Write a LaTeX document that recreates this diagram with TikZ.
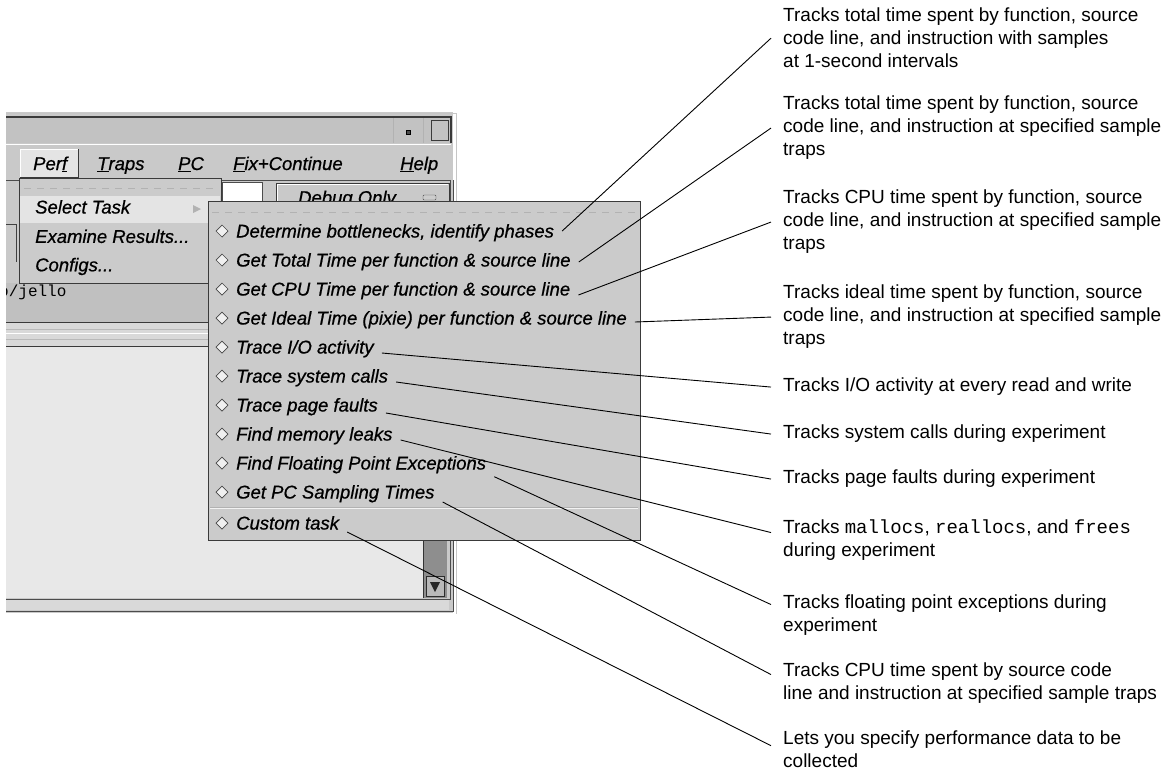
\documentclass[tikz,border=0pt]{standalone}
\usepackage{fontspec}
\setmainfont{Liberation Sans}
\setmonofont{Liberation Mono}
\newfontfamily\menufont[FakeBold=0.7]{Liberation Sans}
\usetikzlibrary{positioning}

\definecolor{winGray}{HTML}{C9C9C9}
\definecolor{titleGray}{HTML}{C2C2C2}
\definecolor{menuGray}{HTML}{CBCBCB}
\definecolor{hiGray}{HTML}{E4E4E4}
\definecolor{paneGray}{HTML}{E8E8E8}
\definecolor{pathGray}{HTML}{C0C0C0}
\definecolor{darkEdge}{HTML}{3A3A3A}
\definecolor{scrollGray}{HTML}{8E8E8E}

\begin{document}
\begin{tikzpicture}[x=1pt, y=-1pt, >=stealth]

    \tikzset{%
    menu item/.style={
        anchor=west,
        inner xsep=8pt,
        inner ysep=1pt,
        text height=13pt,
        text depth=4pt,
        font=\menufont\fontsize{18.5}{22}\selectfont\itshape
        },
    bar item/.style={
        anchor=base west,
        inner sep=0pt,
        font=\menufont\fontsize{18.5}{22}\selectfont\itshape
        },
    callout/.style={
        anchor=north west,
        align=left,
        inner xsep=12pt,
        inner ysep=0pt,
        font=\fontsize{19}{23}\selectfont
        },
    pointer/.style={draw, line width=0.9pt},
    diamond mark/.style={fill=gray!12, draw=gray!55!black, line width=0.7pt},
    }

    \useasboundingbox (0,0) rectangle (1172,772);

    % Window behind the menus
    \begin{scope}
    \clip (6,110) rectangle (460,616);
    \fill[winGray] (6,112) rectangle (453,613);
    \draw[gray!45] (6,113) -- (456,113) -- (456,614);
    % title bar
    \fill[titleGray] (6,117) rectangle (451,143);
    \draw[darkEdge, line width=1.2pt] (6,117) -- (451,117) -- (451,143);
    \draw[gray!60] (393,118) -- (393,143);
    \draw[gray!60] (423,118) -- (423,143);
    \filldraw[fill=black!70, draw=black] (406,130) rectangle (410,134);
    \draw[darkEdge, line width=1pt] (431,120) rectangle (448,140);
    % menu bar
    \fill[winGray] (6,143) rectangle (451,180);
    \draw[white] (6,144) -- (451,144);
    \fill[hiGray] (20,149) rectangle (78,177);
    \draw[white, line width=1pt] (20,177) -- (20,149) -- (78,149);
    \draw[darkEdge, line width=1pt] (20,177) -- (78,177) -- (78,149);
    \node[bar item] (perf) at (33,170) {Per\underline{f}};
    \node[bar item] (traps) at (97,170) {\underline{T}raps};
    \node[bar item] (pc) at (178,170) {\underline{P}C};
    \node[bar item] (fix) at (233,170) {\underline{F}ix+Continue};
    \node[bar item] (help) at (400,170) {\underline{H}elp};
    % tool row
    \draw[gray!60!black] (6,180) -- (451,180);
    \draw[gray!50!black] (6,224) -- (16,224) -- (16,262);
    \filldraw[fill=white, draw=gray!60!black] (222,182) rectangle (262,206);
    \filldraw[fill=winGray, draw=gray!45!black] (276,183) rectangle (449,212);
    \draw[white] (277,211) -- (277,184) -- (448,184);
    \node[bar item] (debug) at (298,204) {Debug Only};
    \filldraw[fill=gray!40, draw=gray!60!black, rounded corners=1pt] (423,195) rectangle (436,200);
    % path row
    \fill[pathGray] (6,283) rectangle (451,322);
    \node[anchor=base west, inner sep=0pt, font=\ttfamily\fontsize{16}{16}\selectfont] (path) at (-1,296) {o/jello};
    \draw[darkEdge] (6,322) -- (451,322);
    % sash
    \fill[gray!30] (6,323) rectangle (451,346);
    \draw[gray!55] (6,329) -- (451,329);
    \draw[white] (6,333) -- (451,333);
    \draw[gray!55] (6,339) -- (451,339);
    \draw[darkEdge, line width=1pt] (6,346) -- (451,346);
    % text pane and scroll bar
    \fill[paneGray] (6,347) rectangle (423,598);
    \fill[scrollGray] (423,347) rectangle (447,598);
    \draw[gray!40!black] (423,347) -- (423,598);
    \filldraw[fill=gray!55, draw=gray!35!black] (426,576) rectangle (444,596);
    \fill[gray!30!black] (430,582) -- (440,582) -- (435,592) -- cycle;
    % bottom and right frame
    \draw[gray!60!black, line width=1pt] (6,599) -- (450,599) -- (450,180);
    \fill[gray!30] (6,600) rectangle (449,610);
    \draw[gray!60!black, line width=1pt] (6,611) -- (453,611) -- (453,180);
    \end{scope}

    % Perf pull-down
    \filldraw[fill=menuGray, draw=darkEdge, line width=1pt] (19,178) rectangle (221,283);
    \draw[gray!60, dash pattern=on 7pt off 6pt] (24,188) -- (216,188);
    \fill[hiGray] (20,196) rectangle (220,223);
    \node[menu item, inner xsep=0pt] (select) at (35,209) {Select Task};
    \node[menu item, inner xsep=0pt, below=10pt of select.south west, anchor=north west] (examine) {Examine Results...};
    \node[menu item, inner xsep=0pt, below=9pt of examine.south west, anchor=north west] (configs) {Configs...};
    \fill[gray!60] (193,205) -- (201,209) -- (193,213) -- cycle;

    % Select Task cascade
    \filldraw[fill=menuGray, draw=darkEdge, line width=1pt] (208,201) rectangle (640,540);
    \draw[gray!60, dash pattern=on 7pt off 6pt] (212,212) -- (636,212);
    \draw[gray!60] (210,507) -- (638,507);
    \draw[white!90!gray] (210,508.5) -- (638,508.5);

    % Task items with their diamonds
    \foreach \t [count=\i] in {{Determine bottlenecks, identify phases},
        {Get Total Time per function \& source line},
        {Get CPU Time per function \& source line},
        {Get Ideal Time (pixie) per function \& source line},
        {Trace I/O activity}, {Trace system calls}, {Trace page faults},
        {Find memory leaks}, {Find Floating Point Exceptions},
        {Get PC Sampling Times}}
    \node[menu item] (item-\i) at (228,233+29*\i-29) {\t};
    \node[menu item] (item-11) at (228,525) {Custom task};
    \foreach \i in {1,...,11}
    \draw[diamond mark] ([xshift=-6pt, yshift=2pt]item-\i.west) ++(-6,0) -- ++(6,-6) -- ++(6,6) -- ++(-6,6) -- cycle;

    % Callout texts
    \foreach \y/\t [count=\i] in {15/{Tracks total time spent by function, source\\code line, and instruction with samples\\at 1-second intervals},
        103/{Tracks total time spent by function, source\\code line, and instruction at specified sample\\traps},
        197/{Tracks CPU time spent by function, source\\code line, and instruction at specified sample\\traps},
        292/{Tracks ideal time spent by function, source\\code line, and instruction at specified sample\\traps},
        385/{Tracks I/O activity at every read and write},
        432/{Tracks system calls during experiment},
        477/{Tracks page faults during experiment},
        527/{Tracks \texttt{mallocs}, \texttt{reallocs}, and \texttt{frees}\\during experiment},
        602/{Tracks floating point exceptions during\\experiment},
        670/{Tracks CPU time spent by source code\\line and instruction at specified sample traps},
        738/{Lets you specify performance data to be\\collected}}
    \node[callout] (label-\i) at (771,\y-7) {\t};

    % Pointers from items to callouts
    \foreach \i/\a/\p/\s in {1/east/2/0, 2/east/0/0, 3/east/-4/0, 4/east/-2/0,
        5/east/-4/0, 6/east/-4/0, 7/east/-6/0, 8/east/-4/8,
        9/south east/-2/11, 10/east/-8/9, 11/east/-7/4}
    \draw[pointer] ([yshift=\p pt]item-\i.\a) -- ([yshift=\s pt]label-\i.west);

\end{tikzpicture}
\end{document}
